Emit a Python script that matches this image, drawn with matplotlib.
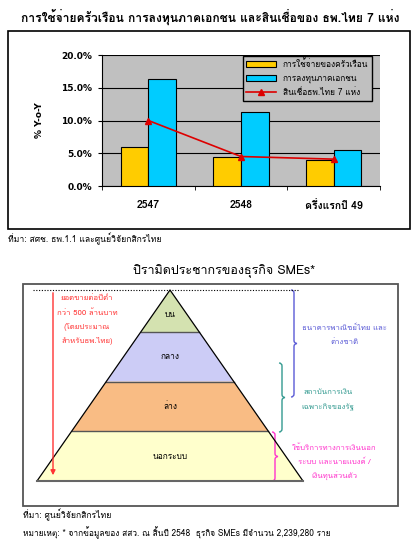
import matplotlib
matplotlib.use("Agg")
import matplotlib.pyplot as plt
import numpy as np
from matplotlib import font_manager
from matplotlib.ft2font import FT2Font
from matplotlib.patches import Polygon, Rectangle, PathPatch
from matplotlib.path import Path


def has_thai(path):
    try:
        return 0x0E01 in FT2Font(path).get_charmap()
    except Exception:
        return False


thai = [f.name for f in font_manager.fontManager.ttflist if has_thai(f.fname)]
FONTS = ([thai[0]] if thai else []) + ["DejaVu Sans"]
plt.rcParams["font.family"] = FONTS

# ---- bar chart data ----
categories = ["2547", "2548", "ครึ่งแรกปี 49"]
household = [6.0, 4.4, 4.0]
private_inv = [16.3, 11.3, 5.5]
bank_credit = [10.0, 4.5, 4.1]
series_names = ["การใช้จ่ายของครัวเรือน", "การลงทุนภาคเอกชน", "สินเชื่อธพ.ไทย 7 แห่ง"]
yticks = [0, 5, 10, 15, 20]

# ---- pyramid data ----
layers = ["บน", "กลาง", "ล่าง", "นอกระบบ"]
layer_depth = [0.22, 0.48, 0.74, 1.0]  # cumulative fraction of pyramid height
layer_colors = ["#d4e2b0", "#ccccf6", "#f9bc84", "#ffffcc"]

W, H = 420, 547
fig = plt.figure(figsize=(W / 100, H / 100), dpi=100)
bg = fig.add_axes([0, 0, 1, 1])
bg.set_xlim(0, W)
bg.set_ylim(H, 0)
bg.axis("off")

# top block
bg.text(210, 17, "การใช้จ่ายครัวเรือน การลงทุนภาคเอกชน และสินเชื่อของ ธพ.ไทย 7 แห่ง",
        ha="center", va="center", fontsize=8.7, fontweight="bold")
bg.add_patch(Rectangle((8, 31), 402, 198, fill=False, ec="black", lw=1.2))
bg.text(8, 239, "ที่มา: สศช. ธพ.1.1 และศูนย์วิจัยกสิกรไทย", ha="left", va="center", fontsize=6.2)


def px_axes(x0, y0, x1, y1):
    return fig.add_axes([x0 / W, 1 - y1 / H, (x1 - x0) / W, (y1 - y0) / H])


ax = px_axes(102, 55, 380, 186)
ax.set_zorder(2)
ax.set_facecolor("#c0c0c0")
x = np.arange(len(categories))
bw = 0.3
b1 = ax.bar(x - bw / 2, household, bw, color="#ffcc00", ec="black", lw=0.8,
            label=series_names[0], zorder=3)
b2 = ax.bar(x + bw / 2, private_inv, bw, color="#00ccff", ec="black", lw=0.8,
            label=series_names[1], zorder=3)
ln, = ax.plot(x, bank_credit, color="#dd0000", lw=1.2, marker="^", ms=5,
              label=series_names[2], zorder=4)
ax.set_xlim(-0.5, 2.5)
ax.set_ylim(0, 20)
ax.set_yticks(yticks)
ax.set_yticklabels([f"{v:.1f}%" for v in yticks], fontsize=6.5, fontweight="bold",
                   family=["DejaVu Sans"])
ax.set_xticks(x)
ax.set_xticklabels(categories, fontsize=7.5, fontweight="bold")
ax.set_xticks([-0.5, 0.5, 1.5, 2.5], minor=True)
ax.tick_params(axis="x", which="major", length=0, pad=10)
ax.tick_params(axis="x", which="minor", length=3)
ax.tick_params(axis="y", length=3, pad=4)
ax.grid(axis="y", color="black", lw=0.8, zorder=0)
for s in ["top", "right"]:
    ax.spines[s].set_visible(False)
ax.set_ylabel("% Y-o-Y", fontsize=6.5, fontweight="bold", family=["DejaVu Sans"])
ax.yaxis.set_label_coords(-0.21, 0.5)
ax.legend([b1, b2, ln], series_names, loc="upper right", bbox_to_anchor=(0.97, 0.995),
          borderaxespad=0, fontsize=6, fancybox=False, facecolor="#c0c0c0",
          edgecolor="black", framealpha=1, handlelength=3.6, handleheight=0.7,
          labelspacing=0.6)

# pyramid block
bg.text(224, 271, "ปิรามิดประชากรของธุรกิจ SMEs*", ha="center", va="center", fontsize=9)
bg.add_patch(Rectangle((23, 284), 375, 222, fill=False, ec="#555555", lw=1.3))

apex_x, apex_y, base_y, half_base = 170, 290, 481, 133
prev = 0.0
for name, d, c in zip(layers, layer_depth, layer_colors):
    y0 = apex_y + prev * (base_y - apex_y)
    y1 = apex_y + d * (base_y - apex_y)
    pts = [(apex_x - prev * half_base, y0), (apex_x + prev * half_base, y0),
           (apex_x + d * half_base, y1), (apex_x - d * half_base, y1)]
    bg.add_patch(Polygon(pts, closed=True, fc=c, ec="none"))
    if d < 1:
        bg.plot([apex_x - d * half_base, apex_x + d * half_base], [y1, y1],
                color="#555555", lw=1)
    bg.text(apex_x, (y0 + y1) / 2 + (3 if prev == 0 else 0), name, ha="center",
            va="center", fontsize=6)
    prev = d
bg.plot([apex_x - half_base, apex_x, apex_x + half_base], [base_y, apex_y, base_y],
        color="black", lw=0.9)
bg.plot([apex_x - half_base, apex_x + half_base], [base_y, base_y], color="#666666", lw=1.5)
bg.plot([33, 299], [apex_y, apex_y], color="black", lw=0.8, ls=(0, (1, 1.5)))

red = "#ff3333"
bg.annotate("", xy=(53, 478), xytext=(53, apex_y),
            arrowprops=dict(arrowstyle="-|>", color=red, lw=1, mutation_scale=7))
for i, t in enumerate(["ยอดขายต่อปีต่ำ", "กว่า 500 ล้านบาท", "(โดยประมาณ", "สำหรับธพ.ไทย)"]):
    bg.text(87, 299 + i * 14, t, ha="center", va="center", fontsize=5.6, color=red)


def brace(x, y0, y1, color, w=3):
    ym = (y0 + y1) / 2
    verts = [(x - w, y0), (x, y0), (x, y0 + w), (x, ym - w), (x, ym), (x + w, ym),
             (x, ym), (x, ym + w), (x, y1 - w), (x, y1), (x - w, y1)]
    codes = [Path.MOVETO, Path.CURVE3, Path.CURVE3, Path.LINETO, Path.CURVE3, Path.CURVE3,
             Path.CURVE3, Path.CURVE3, Path.LINETO, Path.CURVE3, Path.CURVE3]
    bg.add_patch(PathPatch(Path(verts, codes), fc="none", ec=color, lw=1))


blue = "#5b5bd6"
teal = "#339a90"
mag = "#ff33cc"
brace(294, 290, 397, blue)
brace(282, 363, 432, teal)
brace(275, 432, 481, mag)
for i, t in enumerate(["ธนาคารพาณิชย์ไทย และ", "ต่างชาติ"]):
    bg.text(344, 328 + i * 14, t, ha="center", va="center", fontsize=5.6, color=blue)
for i, t in enumerate(["สถาบันการเงิน", "เฉพาะกิจของรัฐ"]):
    bg.text(328, 393 + i * 15, t, ha="center", va="center", fontsize=5.6, color=teal)
for i, t in enumerate(["ใช้บริการทางการเงินนอก", "ระบบ และนายแบงค์ /", "เงินทุนส่วนตัว"]):
    bg.text(334, 448 + i * 14, t, ha="center", va="center", fontsize=5.6, color=mag)

bg.text(23, 515, "ที่มา: ศูนย์วิจัยกสิกรไทย", ha="left", va="center", fontsize=6.2)
bg.text(23, 533, "หมายเหตุ: * จากข้อมูลของ สสว. ณ สิ้นปี 2548  ธุรกิจ SMEs มีจำนวน 2,239,280 ราย",
        ha="left", va="center", fontsize=6.0)

fig.savefig("out.png", dpi=100)
